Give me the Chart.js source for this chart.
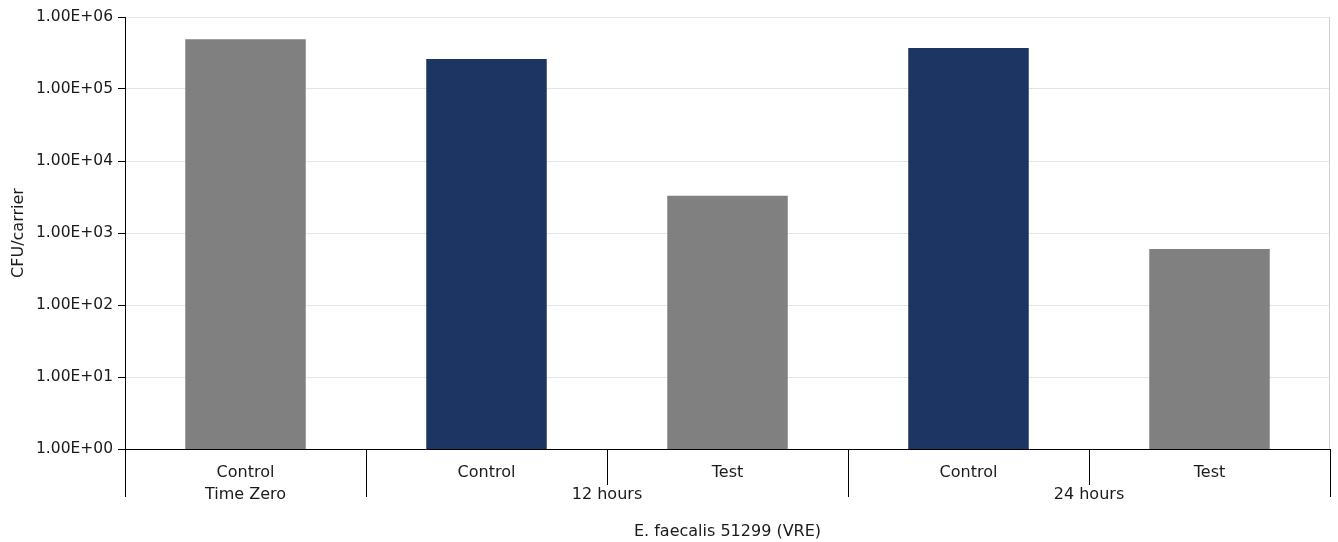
<!DOCTYPE html>
<html>
<head>
<meta charset="utf-8">
<script src="https://cdn.jsdelivr.net/npm/chart.js@4"></script>
<style>
  html, body { margin: 0; padding: 0; background: #ffffff; }
  #wrap { width: 1338px; height: 542px; position: relative; }
</style>
</head>
<body>
<div id="wrap"><canvas id="c" width="1338" height="542"></canvas></div>
<script>
// ---- data ----
const categories = ["Control", "Control", "Test", "Control", "Test"];
const groupLabels = ["Time Zero", "12 hours", "24 hours"];
const groupStarts = [0, 1, 3];
const groupSizes = [1, 2, 2];
const values = [490000, 260000, 3300, 370000, 600];
const yTickValues = [1, 10, 100, 1000, 10000, 100000, 1000000];
const xTitle = "E. faecalis 51299 (VRE)";
const yTitle = "CFU/carrier";

// ---- styles ----
const GRAY = "#808080";
const NAVY = "#1c3562";
const barColors = [GRAY, NAVY, GRAY, NAVY, GRAY];
const FONT = "'DejaVu Sans', sans-serif";

// half-slot grid for the group axis: category c sits at slot 2c+1, its edges at 2c and 2c+2
const nSlots = categories.length * 2 + 1;
const groupSlotLabels = new Array(nSlots).fill("");
groupStarts.forEach((s, i) => {
  const center = s + (groupSizes[i] - 1) / 2;
  groupSlotLabels[Math.round(2 * center + 1)] = groupLabels[i];
});
const boundaries = [];
groupStarts.forEach((s, i) => {
  for (let k = 0; k <= groupSizes[i]; k++) {
    const slot = 2 * (s + k);
    const isGroupEdge = (k === 0 || k === groupSizes[i]);
    const existing = boundaries.find(o => o.slot === slot);
    if (existing) { existing.long = existing.long || isGroupEdge; }
    else boundaries.push({ slot: slot, long: isGroupEdge });
  }
});

const separatorPlugin = {
  id: "separators",
  afterDraw(chart) {
    const g = chart.scales.g;
    const area = chart.chartArea;
    const ctx = chart.ctx;
    ctx.save();
    ctx.strokeStyle = "#000000";
    ctx.lineWidth = 1;
    boundaries.forEach(o => {
      const px = Math.round(g.getPixelForValue(o.slot)) + 0.5;
      ctx.beginPath();
      ctx.moveTo(px, area.bottom);
      ctx.lineTo(px, area.bottom + (o.long ? 48 : 36));
      ctx.stroke();
    });
    // light right border of the plot area
    ctx.strokeStyle = "#cfcfcf";
    const rx = Math.round(area.right) - 0.5;
    ctx.beginPath();
    ctx.moveTo(rx, area.top);
    ctx.lineTo(rx, area.bottom);
    ctx.stroke();
    ctx.restore();
  }
};

function fmtExp(v) {
  const e = Math.round(Math.log10(v));
  const sign = e < 0 ? "-" : "+";
  const a = Math.abs(e);
  return (v / Math.pow(10, e)).toFixed(2) + "E" + sign + (a < 10 ? "0" + a : a);
}

new Chart(document.getElementById("c"), {
  type: "bar",
  data: {
    labels: categories,
    datasets: [{
      data: values,
      backgroundColor: barColors,
      borderWidth: 0,
      categoryPercentage: 1.0,
      barPercentage: 0.5,
      xAxisID: "x",
      yAxisID: "y"
    }]
  },
  plugins: [separatorPlugin],
  options: {
    responsive: false,
    animation: false,
    devicePixelRatio: 1,
    layout: { padding: { top: 17, right: 8, left: 0, bottom: 0 } },
    plugins: { legend: { display: false }, tooltip: { enabled: false } },
    scales: {
      y: {
        type: "logarithmic",
        min: 1,
        max: 1000000,
        afterBuildTicks: (s) => { s.ticks = yTickValues.map(v => ({ value: v })); },
        afterFit: (s) => { s.width = 125; },
        ticks: {
          callback: (v) => fmtExp(v),
          font: { family: FONT, size: 15.5 },
          color: "#1a1a1a",
          padding: 5,
          autoSkip: false
        },
        grid: {
          color: "#e4e4e4",
          tickColor: "#000000",
          tickLength: 7,
          drawTicks: true
        },
        border: { display: true, color: "#000000", width: 1 },
        title: {
          display: true,
          text: yTitle,
          font: { family: FONT, size: 16, lineHeight: 1.2 },
          color: "#1a1a1a",
          padding: { top: 9, bottom: 0 }
        }
      },
      x: {
        type: "category",
        position: "bottom",
        afterFit: (s) => { s.height = 36; },
        grid: { display: false, drawTicks: false },
        border: { display: true, color: "#000000", width: 1 },
        ticks: {
          font: { family: FONT, size: 16, lineHeight: 1.35 },
          color: "#1a1a1a",
          padding: 13,
          maxRotation: 0,
          autoSkip: false
        }
      },
      g: {
        type: "category",
        position: "bottom",
        labels: groupSlotLabels,
        offset: false,
        afterFit: (s) => { s.height = 57; },
        grid: { display: false, offset: false, drawTicks: false },
        border: { display: false },
        ticks: {
          font: { family: FONT, size: 16, lineHeight: 1.0 },
          color: "#1a1a1a",
          padding: 2,
          maxRotation: 0,
          autoSkip: false
        },
        title: {
          display: true,
          text: xTitle,
          font: { family: FONT, size: 16, lineHeight: 1.2 },
          color: "#1a1a1a",
          padding: { top: 0, bottom: 1 }
        }
      }
    }
  }
});
</script>
</body>
</html>
